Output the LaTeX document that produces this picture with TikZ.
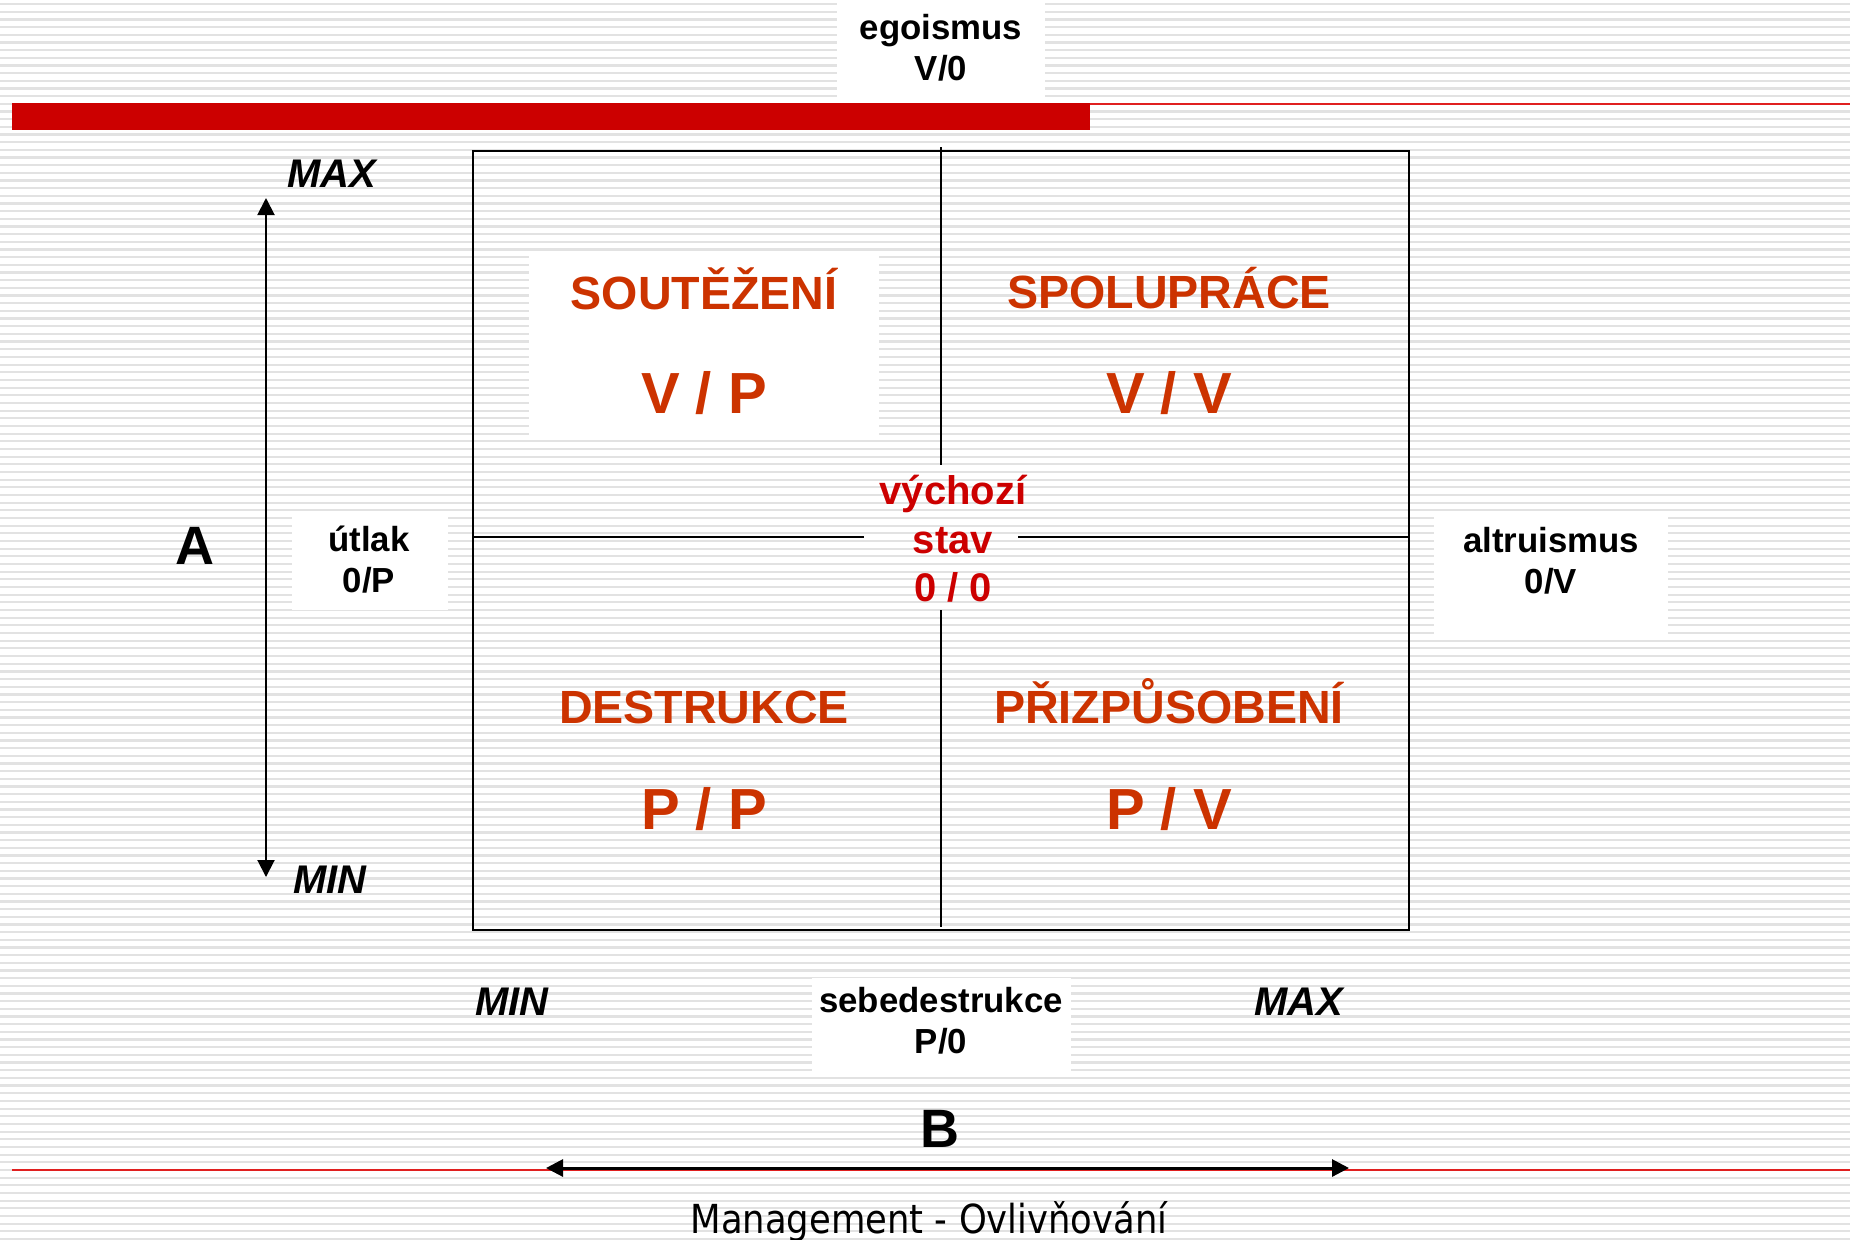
\documentclass[tikz,border=0pt]{standalone}
\usepackage{fontspec}
\setmainfont{Liberation Sans}
\newfontfamily\footfont[FakeStretch=0.885]{DejaVu Sans}
\usetikzlibrary{arrows.meta}
\definecolor{barred}{HTML}{CC0000}
\definecolor{quadred}{HTML}{CC3300}
\definecolor{linered}{HTML}{E02020}
\definecolor{stripe}{HTML}{E2E2E2}
\tikzset{
  patch/.style={
    fill=white,
    inner sep=0pt,
    outer sep=0pt
  },
  side text/.style={
    font=\fontsize{17.4}{20.5}\selectfont\bfseries,
    align=center,
    inner sep=0pt
  },
  quad title/.style={
    font=\fontsize{23.3}{27}\selectfont\bfseries,
    text=quadred,
    anchor=base,
    inner sep=0pt
  },
  quad score/.style={
    font=\fontsize{29}{34}\selectfont\bfseries,
    text=quadred,
    anchor=base,
    inner sep=0pt
  },
  axis end/.style={
    font=\fontsize{20}{24}\selectfont\bfseries\itshape,
    anchor=base,
    inner sep=0pt
  },
  axis name/.style={
    font=\fontsize{27}{32}\selectfont\bfseries,
    anchor=base,
    inner sep=0pt
  },
  axis arrow/.style={
    {Triangle[length=8.5pt,width=8.5pt]}-{Triangle[length=8.5pt,width=8.5pt]},
    line width=1pt
  }
}

\begin{document}
\begin{tikzpicture}[x=0.5pt, y=-0.5pt]
  \useasboundingbox (0,0) rectangle (1850,1239);

  % Background
  \foreach \k in {0,...,161}
    \fill[stripe] (0,{3+\k*7.67}) rectangle (1850,{5.2+\k*7.67});
  \fill[barred] (12,103) rectangle (1090,130);
  \draw[linered, line width=0.8pt] (1090,104) -- (1850,104);
  \draw[linered, line width=0.8pt] (12,1170) -- (1850,1170);

  % White patches
  \node[patch, minimum width=104pt, minimum height=52pt] (egobox) at (941,51) {};
  \node[patch, minimum width=78pt, minimum height=47.5pt] (utlakbox) at (370,562.5) {};
  \node[patch, minimum width=117pt, minimum height=59pt] (altrbox) at (1551,576) {};
  \node[patch, minimum width=129.5pt, minimum height=47.5pt] (sebebox) at (941.5,1025.5) {};
  \node[patch, minimum width=175pt, minimum height=91.5pt] (competebox) at (704,345.5) {};

  % Grid
  \node[draw, line width=1.1pt, minimum width=468pt, minimum height=389.5pt, inner sep=0pt] (grid) at (941,540.5) {};
  \coordinate (vtop) at (941,147);
  \coordinate (vgapA) at (941,465);
  \coordinate (vgapB) at (941,610);
  \coordinate (vbot) at (941,927);
  \coordinate (hleft) at (473,537);
  \coordinate (hgapA) at (864,537);
  \coordinate (hgapB) at (1018,537);
  \coordinate (hright) at (1409,537);
  \draw[line width=0.9pt] (vtop) -- (vgapA);
  \draw[line width=0.9pt] (vgapB) -- (vbot);
  \draw[line width=0.9pt] (hleft) -- (hgapA);
  \draw[line width=0.9pt] (hgapB) -- (hright);

  % Side labels
  \node[side text] (ego) at (941,47.5) {egoismus\\V/0};
  \node[side text] (utlak) at (369,560) {útlak\\0/P};
  \node[side text] (altr) at (1551,561) {altruismus\\0/V};
  \node[side text] (sebe) at (941,1020.5) {sebedestrukce\\P/0};
  \node[font=\fontsize{20}{24.25}\selectfont\bfseries, text=barred, align=center, inner sep=0pt] (start) at (953,538.8) {výchozí\\stav\\0 / 0};

  % Quadrants
  \node[quad title] (compete) at (704,309) {SOUTĚŽENÍ};
  \node[quad score] (competeVP) at (704,413) {V / P};
  \node[quad title] (coop) at (1169,308.5) {SPOLUPRÁCE};
  \node[quad score] (coopVV) at (1169,413) {V / V};
  \node[quad title] (destr) at (704,723.5) {DESTRUKCE};
  \node[quad score] (destrPP) at (704,829) {P / P};
  \node[quad title] (adapt) at (1169,723.5) {PŘIZPŮSOBENÍ};
  \node[quad score] (adaptPV) at (1169,829) {P / V};

  % Axes
  \node[axis name] (A) at (195,564) {A};
  \node[axis name] (B) at (940,1147) {B};
  \node[axis end] (Amax) at (332,187.5) {MAX};
  \node[axis end] (Amin) at (330,893) {MIN};
  \node[axis end] (Bmin) at (512,1015) {MIN};
  \node[axis end] (Bmax) at (1299,1015) {MAX};
  \coordinate (atop) at (266,198);
  \coordinate (abot) at (266,877);
  \coordinate (bleft) at (546,1168);
  \coordinate (bright) at (1349,1168);
  \draw[axis arrow] (abot) -- (atop);
  \draw[axis arrow, line width=1.5pt] (bleft) -- (bright);

  % Footer
  \node[font=\footfont\fontsize{20}{24}\selectfont, anchor=base, inner sep=0pt] (foot) at (929,1233) {Management - Ovlivňování};
\end{tikzpicture}
\end{document}
